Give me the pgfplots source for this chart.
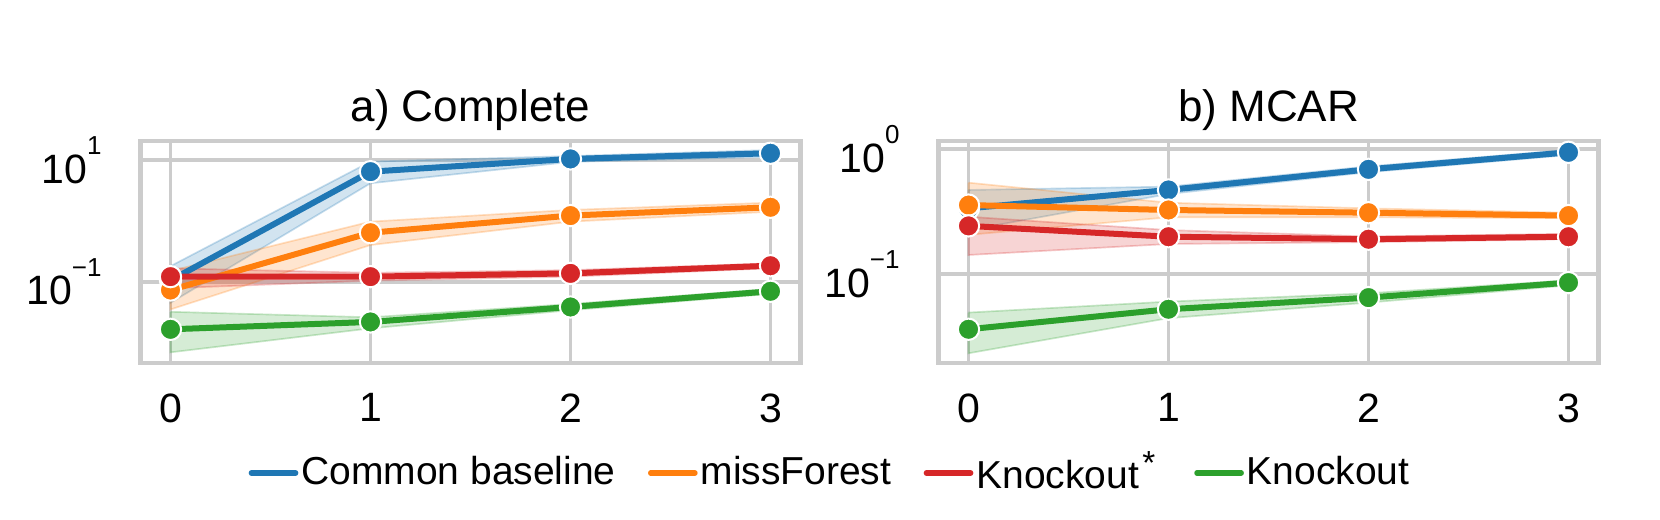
\documentclass[border=0pt]{standalone}
\usepackage{fontspec}
\setmainfont{Liberation Sans}
\usepackage{pgfplots}
\pgfplotsset{compat=1.18}
\definecolor{cB}{HTML}{1F77B4}
\definecolor{cO}{HTML}{FF7F0E}
\definecolor{cR}{HTML}{D62728}
\definecolor{cG}{HTML}{2CA02C}
\definecolor{gridc}{HTML}{CCCCCC}
\newcommand\tenexp[1]{10\raisebox{8.6pt}{\fontsize{7.8}{8}\selectfont #1}}
\newcommand\fs{\fontsize{11.7}{14}\selectfont}
\newcommand\tfs{\fontsize{12.3}{14}\selectfont}
\tikzset{
  band/.style={fill=#1, fill opacity=0.2, draw=#1, draw opacity=0.25, line width=0.5pt},
  ln/.style={color=#1, line width=1.8pt, mark=*, mark size=3.2pt,
    mark options={draw=white, fill=#1, line width=0.6pt, solid}},
}
\pgfplotsset{
  every axis title/.style={at={(0.5,1)}, anchor=base, yshift=6pt, inner sep=0pt,
    font=\fontsize{13.2}{15}\selectfont},
  mypanel/.style={
    scale only axis, width=198pt, height=66.6pt,
    xmin=-0.15, xmax=3.15, xtick={0,1,2,3}, xticklabels={0,1,2,3},
    grid=major, grid style={draw=gridc, line width=1.1pt},
    axis line style={draw=gridc, line width=1.4pt},
    major tick length=0pt, minor tick length=0pt,
    tick label style={font=\tfs},
    yticklabel style={anchor=east, inner sep=0pt, xshift=-11.5pt},
    xticklabel style={anchor=north, inner sep=0pt, yshift=-9pt},
  },
}
\begin{document}
\begin{tikzpicture}
\path[use as bounding box] (0,0) rectangle (498pt,155.7pt);
\begin{axis}[ymode=log, mypanel, at={(42.15pt,46.8pt)}, anchor=south west,
  title={a) Complete},
  ymin=0.00461, ymax=20.5, ytick={0.1,10}, yticklabels={\tenexp{−1},\tenexp{1}},
  legend style={at={(0.1629,-0.4955)}, anchor=west, draw=none, fill=none, inner sep=0pt,
    font=\fs, nodes={inner sep=0.9pt},
    /tikz/every even column/.append style={column sep=8.8pt}},
  legend columns=4, legend cell align=left,
  legend image code/.code={\draw[#1, mark=none, line cap=round, line width=1.6pt] (0pt,0pt) -- (13.3pt,0pt);},
]
% bands
\addplot[band=cB, forget plot] coordinates {(0,0.18) (1,9.4) (2,11.6) (3,14.6) (3,11.3) (2,9.3) (1,4.14) (0,0.045) (0,0.18)};
\addplot[band=cO, forget plot] coordinates {(0,0.15) (1,0.97) (2,1.51) (3,1.99) (3,1.41) (2,0.97) (1,0.40) (0,0.035) (0,0.15)};
\addplot[band=cR, forget plot] coordinates {(0,0.166) (1,0.14) (2,0.155) (3,0.20) (3,0.166) (2,0.121) (1,0.104) (0,0.078) (0,0.166)};
\addplot[band=cG, forget plot] coordinates {(0,0.032) (1,0.026) (2,0.043) (3,0.076) (3,0.063) (2,0.034) (1,0.0171) (0,0.0069) (0,0.032)};
% means
\addplot[ln=cB] coordinates {(0,0.105) (1,6.43) (2,10.4) (3,12.9)};
\addlegendentry{Common baseline}
\addplot[ln=cO] coordinates {(0,0.073) (1,0.638) (2,1.22) (3,1.67)};
\addlegendentry{missForest}
\addplot[ln=cR] coordinates {(0,0.121) (1,0.121) (2,0.137) (3,0.183)};
\addlegendentry{Knockout\kern1pt\raisebox{4.2pt}{\fontsize{10}{10}\selectfont *}\kern2pt}
\addplot[ln=cG] coordinates {(0,0.0165) (1,0.0218) (2,0.0384) (3,0.0695)};
\addlegendentry{Knockout}
\end{axis}
\begin{axis}[ymode=log, mypanel, at={(281.55pt,46.8pt)}, anchor=south west,
  title={b) MCAR},
  ymin=0.0193, ymax=1.166, ytick={0.1,1}, yticklabels={\tenexp{−1},\tenexp{0}},
]
\addplot[band=cB, forget plot] coordinates {(0,0.472) (1,0.502) (2,0.73) (3,0.99) (3,0.90) (2,0.655) (1,0.438) (0,0.225) (0,0.472)};
\addplot[band=cO, forget plot] coordinates {(0,0.54) (1,0.373) (2,0.336) (3,0.31) (3,0.28) (2,0.285) (1,0.285) (0,0.206) (0,0.54)};
\addplot[band=cR, forget plot] coordinates {(0,0.288) (1,0.225) (2,0.20) (3,0.21) (3,0.19) (2,0.18) (1,0.174) (0,0.142) (0,0.288)};
\addplot[band=cG, forget plot] coordinates {(0,0.049) (1,0.060) (2,0.070) (3,0.089) (3,0.081) (2,0.0589) (1,0.0442) (0,0.0231) (0,0.049)};
\addplot[ln=cB] coordinates {(0,0.336) (1,0.472) (2,0.691) (3,0.946)};
\addplot[ln=cO] coordinates {(0,0.357) (1,0.326) (2,0.310) (3,0.294)};
\addplot[ln=cR] coordinates {(0,0.243) (1,0.199) (2,0.190) (3,0.199)};
\addplot[ln=cG] coordinates {(0,0.0360) (1,0.0521) (2,0.0646) (3,0.0852)};
\end{axis}
\end{tikzpicture}
\end{document}
